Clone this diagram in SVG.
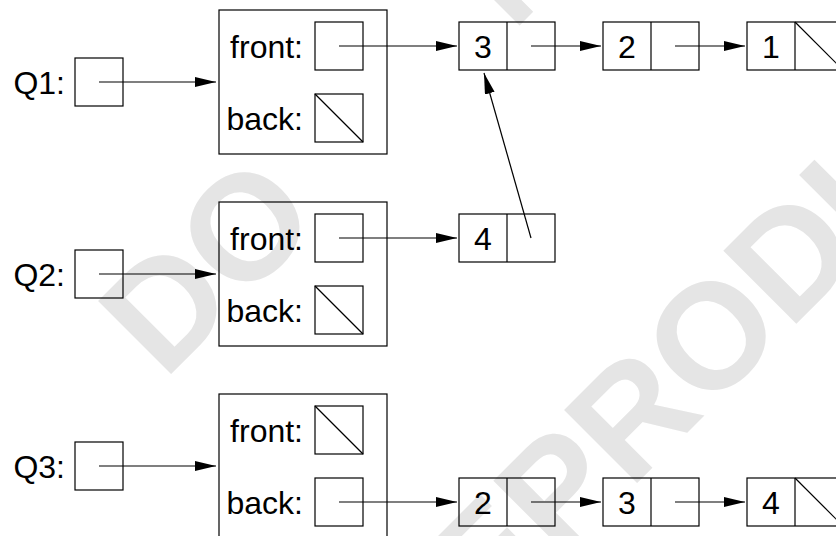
<svg xmlns="http://www.w3.org/2000/svg" width="836" height="536" viewBox="0 0 836 536">
  <defs>
    <style>
      .box { fill: none; stroke: #000; stroke-width: 1.2; }
      .nil { fill: none; stroke: #000; stroke-width: 1.2; }
      .lbl { font-family: "Liberation Sans", Arial, Helvetica, sans-serif; font-size: 32px; fill: #000; }
      .val { font-family: "Liberation Sans", Arial, Helvetica, sans-serif; font-size: 32px; fill: #000; text-anchor: middle; }
      .wire { fill: none; stroke: #000; stroke-width: 1.2; marker-end: url(#ah); }
      .mark { font-family: "Liberation Sans", Arial, sans-serif; font-weight: bold; font-size: 150px; fill: #e5e5e5; }
    </style>
    <marker id="ah" markerUnits="userSpaceOnUse" markerWidth="22" markerHeight="12" refX="21" refY="5" orient="auto">
      <path d="M0,0 L21,5 L0,10 z" fill="#000"/>
    </marker>
  </defs>

  <rect width="836" height="536" fill="#fff"/>

  <!-- background stamp, two justified lines on a 45 degree slant -->
  <g id="stamp">
    <text class="mark" transform="translate(164,381) rotate(-45)"><tspan x="0">DO</tspan><tspan x="493">NOT</tspan></text>
    <text class="mark" transform="translate(412,708) rotate(-45)">REPRODUCE</text>
  </g>

  <!-- queue Q1 -->
  <g id="q1">
    <text class="lbl" x="65" y="94" text-anchor="end">Q1:</text>
    <rect class="box" x="75" y="58" width="48" height="48"/>
  </g>
  <g id="q1-obj">
    <rect class="box" x="219" y="10" width="168" height="144"/>
    <text class="lbl" x="303" y="58" text-anchor="end">front:</text>
    <rect class="box" x="315" y="22" width="48" height="48"/>
    <text class="lbl" x="303" y="130" text-anchor="end">back:</text>
    <rect class="box" x="315" y="94" width="48" height="48"/>
    <line class="nil" x1="315" y1="94" x2="363" y2="142"/>
  </g>
  <g id="n3a">
    <rect class="box" x="459" y="22" width="96" height="48"/>
    <line class="box" x1="507" y1="22" x2="507" y2="70"/>
    <text class="val" x="483" y="58">3</text>
  </g>
  <g id="n2a">
    <rect class="box" x="603" y="22" width="96" height="48"/>
    <line class="box" x1="651" y1="22" x2="651" y2="70"/>
    <text class="val" x="627" y="58">2</text>
  </g>
  <g id="n1a">
    <rect class="box" x="747" y="22" width="96" height="48"/>
    <line class="box" x1="795" y1="22" x2="795" y2="70"/>
    <line class="nil" x1="795" y1="22" x2="843" y2="70"/>
    <text class="val" x="771" y="58">1</text>
  </g>

  <!-- queue Q2 -->
  <g id="q2">
    <text class="lbl" x="65" y="286" text-anchor="end">Q2:</text>
    <rect class="box" x="75" y="250" width="48" height="48"/>
  </g>
  <g id="q2-obj">
    <rect class="box" x="219" y="202" width="168" height="144"/>
    <text class="lbl" x="303" y="250" text-anchor="end">front:</text>
    <rect class="box" x="315" y="214" width="48" height="48"/>
    <text class="lbl" x="303" y="322" text-anchor="end">back:</text>
    <rect class="box" x="315" y="286" width="48" height="48"/>
    <line class="nil" x1="315" y1="286" x2="363" y2="334"/>
  </g>
  <g id="n4a">
    <rect class="box" x="459" y="214" width="96" height="48"/>
    <line class="box" x1="507" y1="214" x2="507" y2="262"/>
    <text class="val" x="483" y="250">4</text>
  </g>

  <!-- queue Q3 -->
  <g id="q3">
    <text class="lbl" x="65" y="478" text-anchor="end">Q3:</text>
    <rect class="box" x="75" y="442" width="48" height="48"/>
  </g>
  <g id="q3-obj">
    <rect class="box" x="219" y="394" width="168" height="144"/>
    <text class="lbl" x="303" y="442" text-anchor="end">front:</text>
    <rect class="box" x="315" y="406" width="48" height="48"/>
    <line class="nil" x1="315" y1="406" x2="363" y2="454"/>
    <text class="lbl" x="303" y="514" text-anchor="end">back:</text>
    <rect class="box" x="315" y="478" width="48" height="48"/>
  </g>
  <g id="n2b">
    <rect class="box" x="459" y="478" width="96" height="48"/>
    <line class="box" x1="507" y1="478" x2="507" y2="526"/>
    <text class="val" x="483" y="514">2</text>
  </g>
  <g id="n3b">
    <rect class="box" x="603" y="478" width="96" height="48"/>
    <line class="box" x1="651" y1="478" x2="651" y2="526"/>
    <text class="val" x="627" y="514">3</text>
  </g>
  <g id="n4b">
    <rect class="box" x="747" y="478" width="96" height="48"/>
    <line class="box" x1="795" y1="478" x2="795" y2="526"/>
    <line class="nil" x1="795" y1="478" x2="843" y2="526"/>
    <text class="val" x="771" y="514">4</text>
  </g>

  <!-- pointers -->
  <g id="connectors">
    <line class="wire" x1="99" y1="82" x2="216" y2="82"/>
    <line class="wire" x1="339" y1="46" x2="457" y2="46"/>
    <line class="wire" x1="531" y1="46" x2="601" y2="46"/>
    <line class="wire" x1="675" y1="46" x2="745" y2="46"/>

    <line class="wire" x1="99" y1="274" x2="216" y2="274"/>
    <line class="wire" x1="339" y1="238" x2="457" y2="238"/>
    <line class="wire" x1="531" y1="238" x2="484" y2="73"/>

    <line class="wire" x1="99" y1="466" x2="216" y2="466"/>
    <line class="wire" x1="339" y1="502" x2="457" y2="502"/>
    <line class="wire" x1="531" y1="502" x2="601" y2="502"/>
    <line class="wire" x1="675" y1="502" x2="745" y2="502"/>
  </g>
</svg>
